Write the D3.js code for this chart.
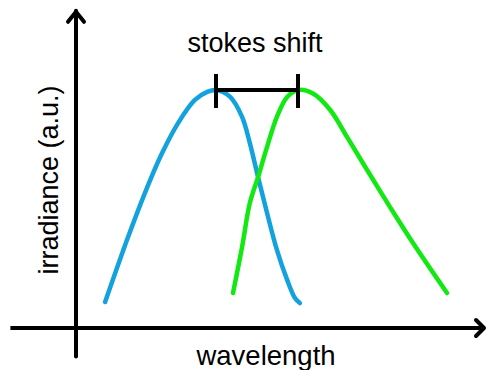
<!DOCTYPE html>
<html>
<head>
<meta charset="utf-8">
<script src="https://cdn.jsdelivr.net/npm/d3@7"></script>
<style>
  html, body { margin: 0; padding: 0; background: #ffffff; }
  svg { display: block; }
  text { font-family: "Liberation Sans", Arial, sans-serif; fill: #000; }
</style>
</head>
<body>
<svg id="chart" width="489" height="370"></svg>
<script>
// Absorption (blue) and emission (green) spectra, arbitrary units
const absWavelength = [7.1, 12.7, 16.8, 21.0, 24.9, 29.0, 32.0, 34.15, 37.6, 40.5, 42.4, 44.4, 46.6, 49.0, 51.5, 53.4, 54.6];
const absIrradiance = [0.109, 0.382, 0.567, 0.735, 0.861, 0.958, 0.992, 1.0, 0.971, 0.887, 0.777, 0.634, 0.483, 0.328, 0.202, 0.126, 0.105];

const emWavelength = [38.3, 40.5, 42.4, 44.4, 46.6, 49.0, 51.5, 54.15, 57.8, 62.0, 66.1, 71.0, 76.6, 82.2, 90.5];
const emIrradiance = [0.147, 0.340, 0.525, 0.634, 0.761, 0.887, 0.971, 1.0, 0.985, 0.916, 0.803, 0.664, 0.508, 0.357, 0.147];

// Peak positions joined by the Stokes shift bracket
const stokesPeaks = [34.15, 54.15];

const axisLabels = { x: "wavelength", y: "irradiance (a.u.)" };
const shiftLabel = "stokes shift";

const svg = d3.select("#chart");

const x = d3.scaleLinear().domain([0, 100]).range([76, 486]);
const y = d3.scaleLinear().domain([0, 1]).range([328, 90]);

// Axis extents (in data units)
const xAxisExtent = [-16, 100];
const yAxisExtent = [-0.12, 1.337];

const axisColor = "#000";
const axisWidth = 4;

// x axis line with arrow head
svg.append("line")
  .attr("x1", x(xAxisExtent[0])).attr("x2", x(xAxisExtent[1]) - 1)
  .attr("y1", y(0)).attr("y2", y(0))
  .attr("stroke", axisColor).attr("stroke-width", axisWidth);
const xt = x(xAxisExtent[1]) - 2;
svg.append("path")
  .attr("d", `M${xt - 8},${y(0) - 8} L${xt},${y(0)} L${xt - 8},${y(0) + 8}`)
  .attr("fill", "none").attr("stroke", axisColor).attr("stroke-width", axisWidth)
  .attr("stroke-linecap", "round").attr("stroke-linejoin", "round");

// y axis line with arrow head
svg.append("line")
  .attr("x1", x(0)).attr("x2", x(0))
  .attr("y1", y(yAxisExtent[0])).attr("y2", y(yAxisExtent[1]) + 1)
  .attr("stroke", axisColor).attr("stroke-width", axisWidth)
  .attr("stroke-linecap", "round");
const yt = y(yAxisExtent[1]) + 2;
svg.append("path")
  .attr("d", `M${x(0) - 8},${yt + 10} L${x(0)},${yt} L${x(0) + 8},${yt + 10}`)
  .attr("fill", "none").attr("stroke", axisColor).attr("stroke-width", axisWidth)
  .attr("stroke-linecap", "round").attr("stroke-linejoin", "round");

// Spectra
const line = d3.line()
  .x(d => x(d[0]))
  .y(d => y(d[1]))
  .curve(d3.curveCatmullRom.alpha(0.5));

svg.append("path")
  .datum(d3.zip(absWavelength, absIrradiance))
  .attr("d", line)
  .attr("fill", "none")
  .attr("stroke", "#13a2dd")
  .attr("stroke-width", 4.5)
  .attr("stroke-linecap", "round");

svg.append("path")
  .datum(d3.zip(emWavelength, emIrradiance))
  .attr("d", line)
  .attr("fill", "none")
  .attr("stroke", "#12e812")
  .attr("stroke-width", 4.5)
  .attr("stroke-linecap", "round");

// Stokes shift bracket
const bracketY = y(1);
svg.append("line")
  .attr("x1", x(stokesPeaks[0])).attr("x2", x(stokesPeaks[1]))
  .attr("y1", bracketY).attr("y2", bracketY)
  .attr("stroke", "#000").attr("stroke-width", 4);
stokesPeaks.forEach(p => {
  svg.append("line")
    .attr("x1", x(p)).attr("x2", x(p))
    .attr("y1", bracketY - 16).attr("y2", bracketY + 18)
    .attr("stroke", "#000").attr("stroke-width", 4);
});

// Labels
svg.append("text")
  .attr("x", (x(stokesPeaks[0]) + x(stokesPeaks[1])) / 2 - 2)
  .attr("y", 52)
  .attr("text-anchor", "middle")
  .attr("font-size", 27)
  .text(shiftLabel);

svg.append("text")
  .attr("x", 266)
  .attr("y", 365)
  .attr("text-anchor", "middle")
  .attr("font-size", 27.5)
  .text(axisLabels.x);

svg.append("text")
  .attr("transform", "translate(58,180) rotate(-90)")
  .attr("text-anchor", "middle")
  .attr("font-size", 27)
  .text(axisLabels.y);
</script>
</body>
</html>
